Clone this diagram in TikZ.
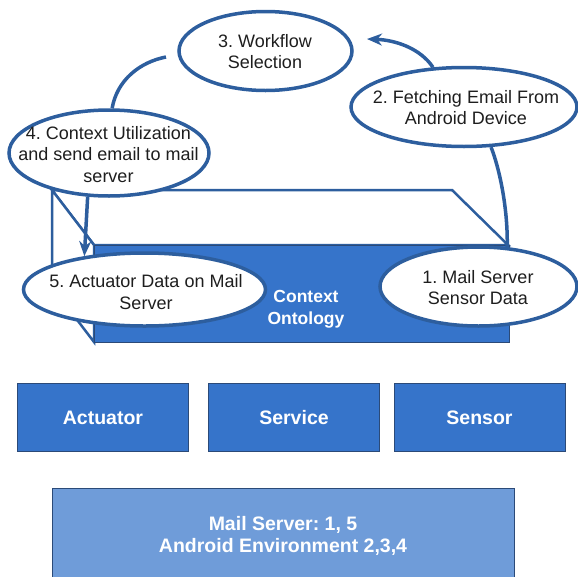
\documentclass[tikz,border=0pt]{standalone}
\usepackage{fontspec}
\setmainfont{Liberation Sans}
\usetikzlibrary{shapes.geometric,arrows.meta}
\frenchspacing
\definecolor{ringblue}{HTML}{2D5E9E}
\definecolor{boxblue}{HTML}{3674CA}
\definecolor{boxedge}{HTML}{2B4A78}
\definecolor{envblue}{HTML}{6F9CD9}
\definecolor{inkgray}{HTML}{1E1E1E}
\tikzset{
  stage/.style={ellipse, draw=ringblue, line width=3.5pt, fill=white, inner sep=0pt},
  stagetext/.style={align=center, text=inkgray, font=\fontsize{18}{21.5}\selectfont, inner sep=0pt},
  layerbox/.style={draw=boxedge, line width=0.8pt, fill=boxblue, text=white,
    font=\fontsize{19.5}{22}\selectfont\bfseries, inner sep=0pt,
    minimum width=171pt, minimum height=68pt},
  flow/.style={draw=ringblue, line width=3.5pt},
  cubeedge/.style={draw=ringblue, line width=2.5pt, fill=white, line join=miter},
  tip/.style={-{Stealth[length=15pt,width=12pt]}}
}
\begin{document}
\begin{tikzpicture}[x=1pt,y=-1pt]
\useasboundingbox (0,0) rectangle (578,576);

% context ontology block: top face, left face, front face
\path[cubeedge] (52,190) -- (452,190) -- (508,245) -- (94,245) -- cycle;
\path[cubeedge] (52,190) -- (94,245) -- (94,342) -- (52,287) -- cycle;
\path[fill=boxblue, draw=boxedge, line width=0.8pt] (94,245) rectangle (509,342);
\node[text=white, font=\fontsize{17.5}{22}\selectfont\bfseries, align=center, inner sep=0pt]
  (onto) at (306,309) {Context\\Ontology};

% layer boxes
\node[layerbox] (act) at (103,417.5) {Actuator};
\node[layerbox] (srv) at (294,417.5) {Service};
\node[layerbox] (sen) at (479.5,417.5) {Sensor};

% environment box
\node[draw=boxedge, line width=0.8pt, fill=envblue, minimum width=462pt, minimum height=94pt, inner sep=0pt]
  (env) at (283,535) {};
\node[text=white, font=\fontsize{19.5}{22}\selectfont\bfseries, align=center, inner sep=0pt]
  (envtext) at (283,536) {Mail Server: 1, 5\\Android Environment 2,3,4};

% workflow stages
\node[stage, minimum width=197pt, minimum height=79pt] (e1) at (478.5,286.5) {};
\node[stage, minimum width=242pt, minimum height=73pt] (e5) at (144.5,289.5) {};
\node[stage, minimum width=226pt, minimum height=79pt] (e2) at (464,107) {};
\node[stage, minimum width=173pt, minimum height=79pt] (e3) at (265.5,51) {};
\node[stage, minimum width=200pt, minimum height=86pt] (e4) at (109,153) {};

% connectors between stages
\coordinate (toThree) at (367,39);
\coordinate (fromThree) at (166,57);
\draw[flow] (e1.54) .. controls (508,210) and (500,170) .. (e2.304);
\draw[flow, tip] (e2.128) .. controls (420,48) and (395,40) .. (toThree);
\draw[flow] (fromThree) .. controls (140,62) and (117,80) .. (e4.86);
\draw[flow, tip] (e4.244) -- (e5.151);

% stage labels
\node[stagetext] (t1) at (478,287.5) {1. Mail Server\\Sensor Data};
\node[stagetext] (t2) at (466,107.5) {2. Fetching Email From\\Android Device};
\node[stagetext] (t3) at (265,51.5) {3. Workflow\\Selection};
\node[stagetext] (t4) at (108.5,154.5) {4. Context Utilization\\and send email to mail\\server};
\node[stagetext] (t5) at (146,292) {5. Actuator Data on Mail\\Server};
\end{tikzpicture}
\end{document}
